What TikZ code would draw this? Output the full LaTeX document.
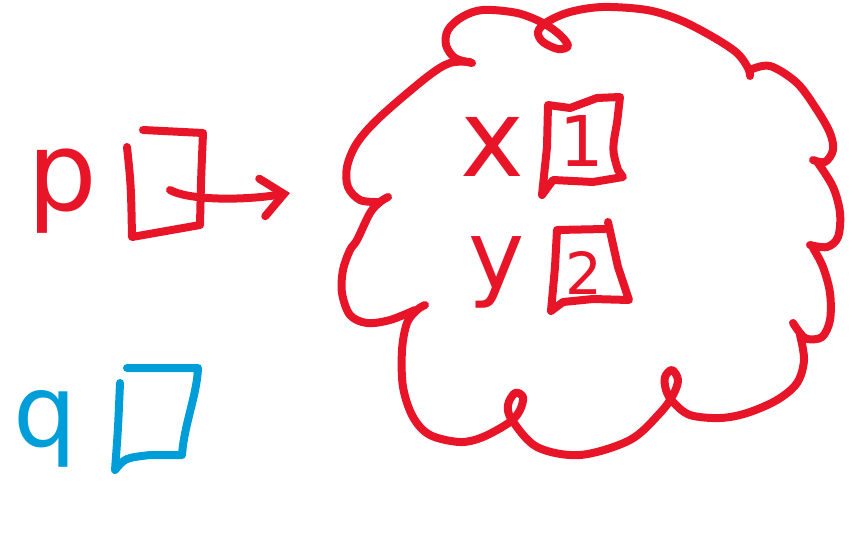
\documentclass[tikz,border=0pt]{standalone}
\usepackage{fontspec}
\newfontfamily\handfont{DejaVu Sans}
\usetikzlibrary{arrows.meta}
\definecolor{inkred}{RGB}{232,20,40}
\definecolor{inkblue}{RGB}{0,158,216}
\tikzset{
  ink/.style={line width=8pt, line cap=round, line join=round},
  letter/.style={inner sep=0pt, anchor=base},
}
\begin{document}
\begin{tikzpicture}[x=1pt,y=-1pt]
\useasboundingbox (0,0) rectangle (866,538);
% ---------- p and its box ----------
\node[letter, text=inkred, font=\handfont\fontsize{110}{110}\selectfont] (p) at (62,210) {p};
\draw[ink, inkred] (127,147) .. controls (131,185) .. (132,237) -- (200,225) .. controls (201,180) .. (203,133) -- (143,130);
\coordinate (pa) at (170,190);
\coordinate (pe) at (290,193);
\draw[ink, inkred, -{Straight Barb[length=22pt,width=38pt,line cap=round]}] (pa) .. controls (188,200) and (240,201) .. (pe);
% ---------- q and its box ----------
\node[letter, text=inkblue, font=\handfont\fontsize{100}{100}\selectfont] (q) at (45,446) {q};
\draw[ink, inkblue] (120,383) .. controls (118,430) .. (115,470) .. controls (125,458) .. (150,455) -- (182,455) .. controls (184,425) and (197,395) .. (198,368) -- (127,368);
% ---------- cloud ----------
\draw[ink, inkred] plot[smooth, tension=0.55] coordinates {
 (472,63) (455,58) (446,45) (448,30) (462,17) (483,10) (517,13) (543,23) (560,35) (568,46) (558,49) (543,42) (538,32) (547,22) (570,12) (603,7) (647,10) (680,20) (713,37) (737,53) (748,68) (750,76)};
\draw[ink, inkred] plot[smooth, tension=0.55] coordinates {
 (750,70) (770,66) (797,83) (817,110) (830,133) (833,150) (825,162) (813,160)};
\draw[ink, inkred] plot[smooth, tension=0.55] coordinates {
 (818,163) (833,187) (840,213) (838,237) (827,247) (810,245)};
\draw[ink, inkred] plot[smooth, tension=0.55] coordinates {
 (813,248) (823,267) (830,293) (830,320) (822,337) (807,339) (800,333) (793,323)};
\draw[ink, inkred] plot[smooth, tension=0.55] coordinates {
 (800,335) (804,360) (797,383) (777,400) (747,413) (720,418) (690,415) (673,402) (666,390) (665,377) (672,370) (678,380) (673,395) (660,413) (630,440) (580,455) (537,447) (512,420) (508,405) (515,393) (523,397) (520,410) (510,422) (483,437) (460,442) (430,435) (413,417) (403,387) (402,350) (407,323) (417,310) (425,305)};
\draw[ink, inkred] plot[smooth, tension=0.55] coordinates {
 (415,310) (390,320) (367,323) (350,315) (342,293) (343,270) (350,250) (357,240) (370,213) (380,202) (388,197)};
\draw[ink, inkred] plot[smooth, tension=0.55] coordinates {
 (378,202) (360,200) (348,187) (347,167) (357,143) (380,117) (427,77) (450,63) (470,62)};
% ---------- x and box 1 ----------
\node[letter, text=inkred, font=\handfont\fontsize{108}{108}\selectfont] (x) at (492,176) {x};
\draw[ink, inkred] (542,195) -- (547,147) -- (548,105) -- (570,108) -- (597,98) -- (620,97) -- (617,123) .. controls (612,150) .. (618,170) -- (623,177) -- (593,182) -- (553,180) -- cycle;
\node[letter, text=inkred, font=\handfont\fontsize{70}{70}\selectfont] (one) at (582,166) {1};
% ---------- y and box 2 ----------
\node[letter, text=inkred, font=\handfont\fontsize{95}{95}\selectfont] (y) at (497,288) {y};
\draw[ink, inkred] (605,229) -- (557,230) -- (555,267) -- (551,311) -- (563,302) -- (593,299) -- (629,300) -- (618,267) -- (612,240) -- (608,222);
\node[letter, text=inkred, font=\handfont\fontsize{58}{58}\selectfont] (two) at (584,294) {2};
\end{tikzpicture}
\end{document}
